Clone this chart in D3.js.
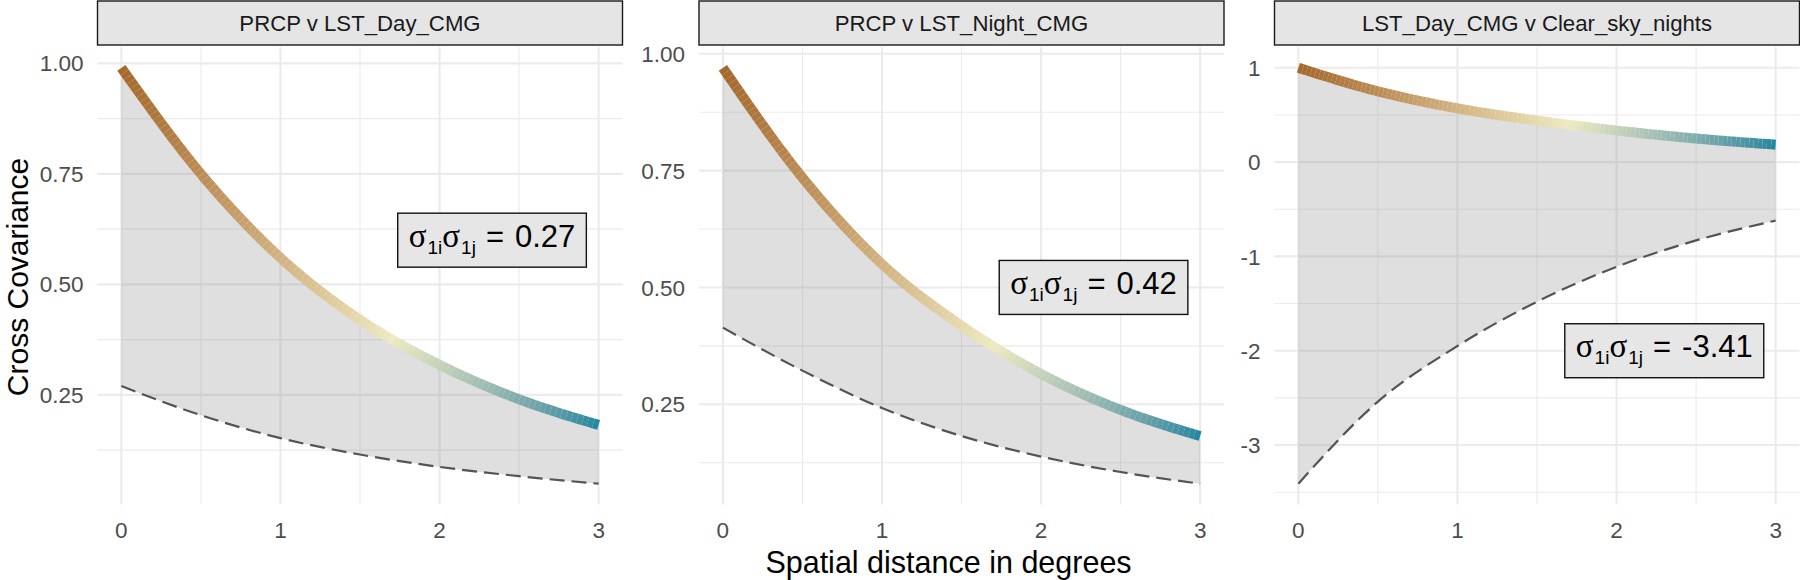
<!DOCTYPE html>
<html><head><meta charset="utf-8">
<script src="https://cdn.jsdelivr.net/npm/d3@7"></script>
<style>
body{margin:0;background:#fff}
text{font-family:"Liberation Sans",Arial,Helvetica,sans-serif}
</style>
</head><body>
<svg id="chart" width="1800" height="580"></svg>
<script>
// ---------------- data ----------------
const distance = [0, 0.5, 1, 1.5, 2, 2.5, 3];
const panelTitles = ["PRCP v LST_Day_CMG", "PRCP v LST_Night_CMG", "LST_Day_CMG v Clear_sky_nights"];
const upper1 = [0.99, 0.75, 0.56, 0.42, 0.318, 0.24, 0.182];
const lower1 = [0.27, 0.204, 0.152, 0.115, 0.087, 0.066, 0.049];
const upper2 = [0.97, 0.735, 0.55, 0.418, 0.315, 0.238, 0.182];
const lower2 = [0.414, 0.322, 0.242, 0.182, 0.138, 0.105, 0.08];
const upper3 = [1.0, 0.75, 0.57, 0.44, 0.335, 0.25, 0.185];
const lower3 = [-3.41, -2.54, -1.95, -1.48, -1.11, -0.83, -0.62];
const sigmaValues = ["0.27", "0.42", "-3.41"];
const labelX = [2.33, 2.33, 2.3];
const labelY = [0.6, 0.5, -2.0];
const xTicks = [0, 1, 2, 3];
const xTickLabels = ["0", "1", "2", "3"];
const yTicksA = [0.25, 0.5, 0.75, 1.0];
const yTickLabelsA = ["0.25", "0.50", "0.75", "1.00"];
const yTicksB = [-3, -2, -1, 0, 1];
const yTickLabelsB = ["-3", "-2", "-1", "0", "1"];
const xTitle = "Spatial distance in degrees";
const yTitle = "Cross Covariance";
const colourStops = [0, 1.7, 3];
const colourRange = ["#a4682b", "#eeeac2", "#1f879f"];

// ---------------- layout ----------------
const svg = d3.select("#chart");
const panelLeft = [97.5, 699, 1274.5];
const panelW = 525, panelTop = 47, panelBottom = 504.5;
const stripTop = 1, stripBottom = 45;
const uppers = [upper1, upper2, upper3];
const lowers = [lower1, lower2, lower3];
const yTickSets = [[yTicksA, yTickLabelsA], [yTicksA, yTickLabelsA], [yTicksB, yTickLabelsB]];

const colour = d3.scaleLinear().domain(colourStops).range(colourRange).interpolate(d3.interpolateLab);

function minorTicks(ticks, dom) {
  const step = ticks[1] - ticks[0];
  const out = [];
  for (let v = ticks[0] - step / 2; v <= dom[1]; v += step) {
    if (v >= dom[0] && v <= dom[1]) out.push(v);
  }
  return out;
}

panelTitles.forEach((title, i) => {
  const up = uppers[i], lo = lowers[i];
  const L = panelLeft[i];
  const x = d3.scaleLinear().domain([-0.15, 3.15]).range([L, L + panelW]);
  const ymin = d3.min(lo), ymax = d3.max(up);
  const pad = (ymax - ymin) * 0.05;
  const y = d3.scaleLinear().domain([ymin - pad, ymax + pad]).range([panelBottom, panelTop]);
  const g = svg.append("g");
  const [yt, ytl] = yTickSets[i];

  // grid
  const xMinor = minorTicks(xTicks, x.domain());
  const yMinor = minorTicks(yt, y.domain());
  g.selectAll(".gxm").data(xMinor).join("line")
    .attr("x1", d => x(d)).attr("x2", d => x(d)).attr("y1", panelTop).attr("y2", panelBottom)
    .attr("stroke", "#ebebeb").attr("stroke-width", 1.1);
  g.selectAll(".gym").data(yMinor).join("line")
    .attr("y1", d => y(d)).attr("y2", d => y(d)).attr("x1", L).attr("x2", L + panelW)
    .attr("stroke", "#ebebeb").attr("stroke-width", 1.1);
  g.selectAll(".gx").data(xTicks).join("line")
    .attr("x1", d => x(d)).attr("x2", d => x(d)).attr("y1", panelTop).attr("y2", panelBottom)
    .attr("stroke", "#ebebeb").attr("stroke-width", 2.1);
  g.selectAll(".gy").data(yt).join("line")
    .attr("y1", d => y(d)).attr("y2", d => y(d)).attr("x1", L).attr("x2", L + panelW)
    .attr("stroke", "#ebebeb").attr("stroke-width", 2.1);

  const pts = distance.map((d, k) => ({d, u: up[k], l: lo[k]}));

  // ribbon
  g.append("path").datum(pts)
    .attr("d", d3.area().x(p => x(p.d)).y0(p => y(p.l)).y1(p => y(p.u)).curve(d3.curveMonotoneX))
    .attr("fill", "#7f7f7f").attr("fill-opacity", 0.25);

  // dashed lower
  g.append("path").datum(pts)
    .attr("d", d3.line().x(p => x(p.d)).y(p => y(p.l)).curve(d3.curveMonotoneX))
    .attr("fill", "none").attr("stroke", "#545454").attr("stroke-width", 2.2)
    .attr("stroke-dasharray", "15,7");

  // gradient upper line, drawn as short segments
  const guide = g.append("path").datum(pts)
    .attr("d", d3.line().x(p => x(p.d)).y(p => y(p.u)).curve(d3.curveMonotoneX))
    .attr("fill", "none").attr("stroke", "none");
  const node = guide.node();
  const len = node.getTotalLength();
  const N = 110;
  const samples = d3.range(N + 1).map(k => node.getPointAtLength(len * k / N));
  const segs = d3.range(N).map(k => [samples[k], samples[k + 1]]);
  g.selectAll(".seg").data(segs).join("line")
    .attr("x1", s => s[0].x).attr("y1", s => s[0].y)
    .attr("x2", s => s[1].x).attr("y2", s => s[1].y)
    .attr("stroke", s => colour(x.invert((s[0].x + s[1].x) / 2)))
    .attr("stroke-width", 10).attr("stroke-linecap", "butt");

  // strip
  g.append("rect").attr("x", L).attr("y", stripTop).attr("width", panelW).attr("height", stripBottom - stripTop)
    .attr("fill", "#e5e5e5").attr("stroke", "#1a1a1a").attr("stroke-width", 1.4);
  g.append("text").attr("x", L + panelW / 2).attr("y", (stripTop + stripBottom) / 2).attr("dy", "0.36em")
    .attr("text-anchor", "middle").attr("font-size", 22.2).attr("fill", "#1a1a1a").text(title);

  // axes labels
  g.selectAll(".yl").data(yt).join("text")
    .attr("x", L - 14).attr("y", d => y(d)).attr("dy", "0.36em").attr("text-anchor", "end")
    .attr("font-size", 22.5).attr("fill", "#4d4d4d").text((d, k) => ytl[k]);
  g.selectAll(".xl").data(xTicks).join("text")
    .attr("x", d => x(d)).attr("y", 537.5).attr("text-anchor", "middle")
    .attr("font-size", 22.5).attr("fill", "#4d4d4d").text((d, k) => xTickLabels[k]);

  // sigma label
  const cx = x(labelX[i]), cy = y(labelY[i]);
  const lg = g.append("g");
  const rect = lg.append("rect");
  const t = lg.append("text").attr("x", cx).attr("y", cy + 6.5).attr("text-anchor", "middle")
    .attr("font-size", 31).attr("fill", "#000");
  const serif = "Liberation Serif, DejaVu Serif, serif";
  t.append("tspan").attr("font-family", serif).attr("font-size", 33).text("σ");
  t.append("tspan").attr("font-size", 19).attr("dy", 7).attr("dx", 1).text("1i");
  t.append("tspan").attr("font-family", serif).attr("font-size", 33).attr("dy", -7).text("σ");
  t.append("tspan").attr("font-size", 19).attr("dy", 7).attr("dx", 1).text("1j");
  t.append("tspan").attr("dy", -7).attr("dx", 10).text("=");
  t.append("tspan").attr("dx", 11).text(sigmaValues[i]);
  const bb = t.node().getBBox();
  rect.attr("x", bb.x - 11).attr("y", cy - 27).attr("width", bb.width + 22).attr("height", 54)
    .attr("fill", "#e6e6e6").attr("stroke", "#111").attr("stroke-width", 1.4);
});

// titles
svg.append("text").attr("x", (panelLeft[0] + panelLeft[2] + panelW) / 2).attr("y", 572.5)
  .attr("text-anchor", "middle").attr("font-size", 30.5).attr("fill", "#000").text(xTitle);
svg.append("text").attr("transform", "translate(28,277) rotate(-90)")
  .attr("text-anchor", "middle").attr("font-size", 30).attr("fill", "#000").text(yTitle);
</script>
</body></html>
